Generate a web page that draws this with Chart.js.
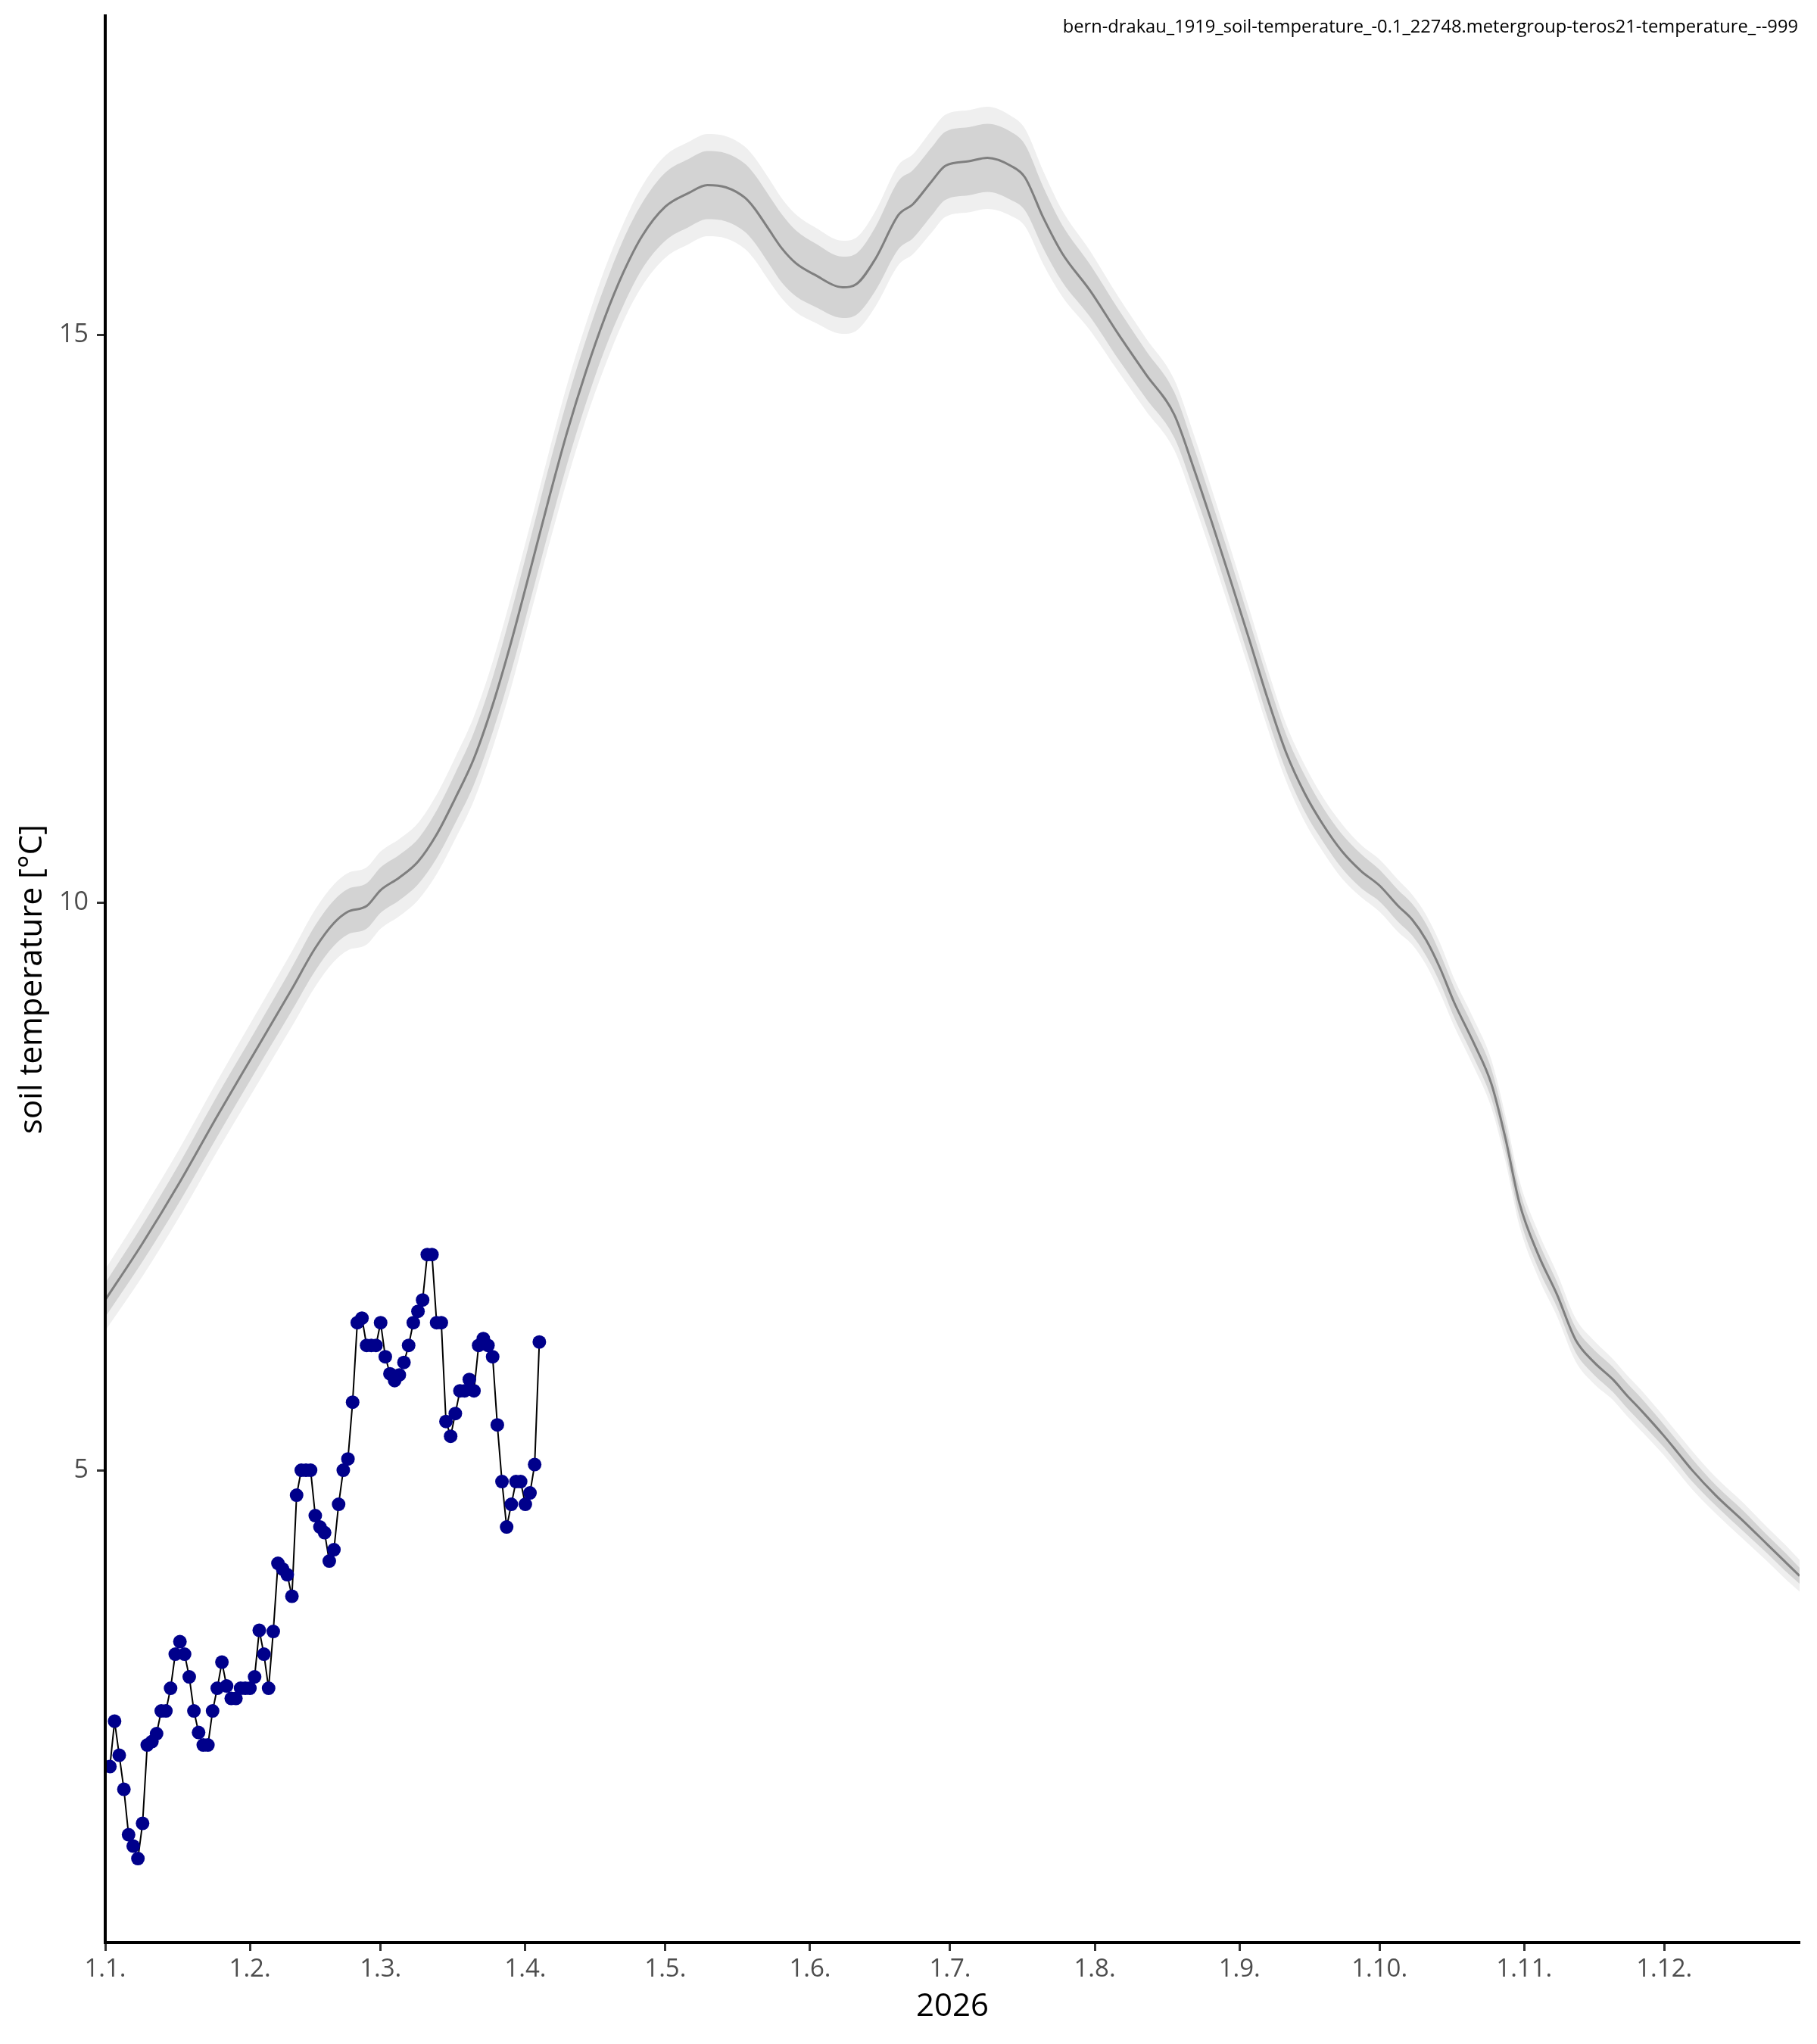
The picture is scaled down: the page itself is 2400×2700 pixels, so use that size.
<!DOCTYPE html>
<html>
<head>
<meta charset="utf-8">
<title>soil temperature</title>
<script src="https://cdn.jsdelivr.net/npm/chart.js@4.4.1/dist/chart.umd.min.js"></script>
<style>
  html, body { margin: 0; padding: 0; background: #ffffff; }
  #wrap { width: 2400px; height: 2700px; }
</style>
</head>
<body>
<div id="wrap"><canvas id="soilChart" width="2400" height="2700"></canvas></div>
<script>
(function () {
  "use strict";

  // sensor label shown top right
  const sensorLabel = 'bern-drakau_1919_soil-temperature_-0.1_22748.metergroup-teros21-temperature_--999';

  // x axis: day of year 2026 (0 = 1 Jan), month ticks
  const monthStartDays = [0, 31, 59, 90, 120, 151, 181, 212, 243, 273, 304, 334];
  const monthLabels = ['1.1.', '1.2.', '1.3.', '1.4.', '1.5.', '1.6.', '1.7.', '1.8.', '1.9.', '1.10.', '1.11.', '1.12.'];
  const yTicks = [5, 10, 15];

  // climatology (day of year, mean, half widths of the two ribbons)
  const climDay = [0, 8, 16, 24, 32, 40, 45, 49, 52, 56,
    59, 63, 67, 71, 75, 79, 83, 87, 91, 95,
    99, 103, 107, 111, 115, 120, 125, 129, 133, 137,
    139, 142, 145, 148, 152, 158, 161, 165, 170, 173,
    177, 180, 185, 189, 194, 197, 201, 205, 211, 217,
    223, 229, 233, 237, 241, 245, 249, 253, 257, 261,
    265, 269, 273, 277, 280, 283, 286, 289, 293, 297,
    300, 303, 307, 311, 315, 319, 323, 326, 329, 334,
    337, 340, 345, 351, 356, 360, 363];
  const climMean = [6.50, 7.00, 7.54, 8.12, 8.68, 9.24, 9.60, 9.82, 9.92, 9.97,
    10.11, 10.22, 10.36, 10.60, 10.92, 11.27, 11.74, 12.30, 12.92, 13.55,
    14.15, 14.68, 15.15, 15.55, 15.87, 16.13, 16.25, 16.32, 16.30, 16.21,
    16.12, 15.94, 15.76, 15.63, 15.53, 15.42, 15.45, 15.67, 16.06, 16.15,
    16.35, 16.49, 16.53, 16.56, 16.49, 16.39, 16.03, 15.72, 15.39, 15.01,
    14.65, 14.30, 13.85, 13.36, 12.85, 12.33, 11.80, 11.32, 10.96, 10.68,
    10.45, 10.28, 10.15, 9.97, 9.85, 9.67, 9.42, 9.12, 8.78, 8.40,
    7.92, 7.35, 6.90, 6.55, 6.15, 5.95, 5.80, 5.66, 5.53, 5.30,
    5.15, 5.00, 4.78, 4.55, 4.35, 4.19, 4.07];
  const climInner = [0.15, 0.16, 0.17, 0.18, 0.18, 0.19, 0.20, 0.20, 0.20, 0.20,
    0.20, 0.20, 0.20, 0.21, 0.22, 0.23, 0.24, 0.26, 0.27, 0.28,
    0.28, 0.28, 0.28, 0.29, 0.29, 0.30, 0.30, 0.30, 0.30, 0.30,
    0.30, 0.30, 0.30, 0.29, 0.28, 0.27, 0.27, 0.28, 0.30, 0.30,
    0.30, 0.30, 0.30, 0.30, 0.30, 0.29, 0.27, 0.25, 0.23, 0.22,
    0.21, 0.20, 0.19, 0.18, 0.18, 0.17, 0.17, 0.16, 0.16, 0.15,
    0.15, 0.15, 0.14, 0.14, 0.14, 0.14, 0.13, 0.13, 0.13, 0.13,
    0.12, 0.12, 0.12, 0.11, 0.11, 0.11, 0.11, 0.11, 0.11, 0.10,
    0.10, 0.10, 0.09, 0.09, 0.08, 0.08, 0.07];
  const climOuter = [0.27, 0.29, 0.30, 0.31, 0.32, 0.33, 0.34, 0.34, 0.34, 0.34,
    0.34, 0.34, 0.34, 0.35, 0.36, 0.37, 0.38, 0.40, 0.40, 0.41,
    0.42, 0.42, 0.43, 0.43, 0.44, 0.45, 0.45, 0.45, 0.45, 0.45,
    0.45, 0.45, 0.44, 0.43, 0.42, 0.41, 0.41, 0.42, 0.44, 0.44,
    0.45, 0.45, 0.45, 0.45, 0.44, 0.43, 0.41, 0.38, 0.35, 0.33,
    0.32, 0.31, 0.30, 0.29, 0.28, 0.27, 0.26, 0.25, 0.25, 0.24,
    0.24, 0.23, 0.23, 0.23, 0.22, 0.22, 0.22, 0.21, 0.21, 0.21,
    0.20, 0.20, 0.20, 0.19, 0.19, 0.19, 0.18, 0.18, 0.18, 0.17,
    0.17, 0.17, 0.16, 0.16, 0.15, 0.15, 0.14];

  // daily observations from 2 Jan 2026
  const obsFirstDay = 1;
  const obsTemp = [2.39, 2.79, 2.49, 2.19, 1.79, 1.69, 1.58, 1.89, 2.58, 2.61,
    2.68, 2.88, 2.88, 3.08, 3.38, 3.49, 3.38, 3.18, 2.88, 2.69,
    2.58, 2.58, 2.88, 3.08, 3.31, 3.10, 2.99, 2.99, 3.08, 3.08,
    3.08, 3.18, 3.59, 3.38, 3.08, 3.58, 4.18, 4.13, 4.08, 3.89,
    4.78, 5.00, 5.00, 5.00, 4.60, 4.50, 4.45, 4.20, 4.30, 4.70,
    5.00, 5.10, 5.60, 6.30, 6.34, 6.10, 6.10, 6.10, 6.30, 6.00,
    5.85, 5.79, 5.84, 5.95, 6.10, 6.30, 6.40, 6.50, 6.90, 6.90,
    6.30, 6.30, 5.43, 5.30, 5.50, 5.70, 5.70, 5.80, 5.70, 6.10,
    6.16, 6.10, 6.00, 5.40, 4.90, 4.50, 4.70, 4.90, 4.90, 4.70,
    4.80, 5.05, 6.13];

  // colours
  const obs_point   = '#00008b';
  const obs_line    = '#000000';
  const clim_line   = '#7f7f7f';
  const band_inner  = '#d3d3d3';
  const band_outer  = '#efefef';
  const text_gray   = '#4d4d4d';

  Chart.defaults.font.family = '"Open Sans", "Noto Sans", sans-serif';

  const climPoints = (offs, sign) => climDay.map((d, i) => ({ x: d, y: climMean[i] + sign * (offs ? offs[i] : 0) }));
  const obsPoints = obsTemp.map((t, i) => ({ x: obsFirstDay + i, y: t }));

  const band = (data, fill, color) => ({
    data: data,
    borderWidth: 0,
    borderColor: 'rgba(0,0,0,0)',
    backgroundColor: color,
    pointRadius: 0,
    fill: fill,
    cubicInterpolationMode: 'monotone'
  });

  // top right label, drawn inside the panel like the original
  const cornerLabel = {
    id: 'cornerLabel',
    afterDraw(chart) {
      const ctx = chart.ctx;
      ctx.save();
      ctx.font = '23.7px "Open Sans"';
      ctx.fillStyle = '#000000';
      ctx.textAlign = 'right';
      ctx.textBaseline = 'alphabetic';
      ctx.fillText(sensorLabel, chart.chartArea.right - 2, 43);
      ctx.restore();
    }
  };

  const ctx = document.getElementById('soilChart').getContext('2d');
  new Chart(ctx, {
    type: 'line',
    data: {
      datasets: [
        {
          data: obsPoints,
          borderColor: obs_line,
          borderWidth: 2,
          pointRadius: 9,
          pointBackgroundColor: obs_point,
          pointBorderWidth: 0,
          tension: 0,
          fill: false
        },
        {
          data: climPoints(null, 0),
          borderColor: clim_line,
          borderWidth: 3,
          pointRadius: 0,
          fill: false,
          cubicInterpolationMode: 'monotone'
        },
        band(climPoints(climInner, 1), '+1', band_inner),
        band(climPoints(climInner, -1), false, band_inner),
        band(climPoints(climOuter, 1), '+1', band_outer),
        band(climPoints(climOuter, -1), false, band_outer)
      ]
    },
    options: {
      responsive: false,
      devicePixelRatio: 1,
      animation: false,
      layout: { padding: { left: 0, right: 23, top: 21, bottom: 0 } },
      plugins: {
        legend: { display: false },
        tooltip: { enabled: false }
      },
      scales: {
        x: {
          type: 'linear',
          position: 'bottom',
          min: 0,
          max: 363,
          afterBuildTicks: (scale) => { scale.ticks = monthStartDays.map(v => ({ value: v })); },
          afterFit: (scale) => { scale.height = 134; scale.paddingLeft = 0; scale.paddingRight = 0; },
          ticks: {
            autoSkip: false,
            maxRotation: 0,
            padding: 5,
            color: text_gray,
            font: { size: 33 },
            callback: (value, index) => monthLabels[index]
          },
          grid: { display: true, drawOnChartArea: false, drawTicks: true, tickLength: 11, tickColor: '#333333', tickWidth: 3 },
          border: { display: true, color: '#000000', width: 4, z: 1 },
          title: { display: true, text: '2026', color: '#000000', font: { size: 42 }, padding: { top: 0, bottom: 24 } }
        },
        y: {
          type: 'linear',
          min: 0.84,
          max: 17.81,
          afterBuildTicks: (scale) => { scale.ticks = yTicks.map(v => ({ value: v })); },
          afterFit: (scale) => { scale.width = 139; scale.paddingTop = 0; scale.paddingBottom = 0; },
          ticks: {
            padding: 11,
            color: text_gray,
            font: { size: 34 }
          },
          grid: { display: true, drawOnChartArea: false, drawTicks: true, tickLength: 11, tickColor: '#333333', tickWidth: 3 },
          border: { display: true, color: '#000000', width: 4, z: 1 },
          title: { display: true, text: 'soil temperature [°C]', color: '#000000', font: { size: 42 }, padding: { top: 18, bottom: 0 } }
        }
      }
    },
    plugins: [cornerLabel]
  });
})();
</script>
</body>
</html>
